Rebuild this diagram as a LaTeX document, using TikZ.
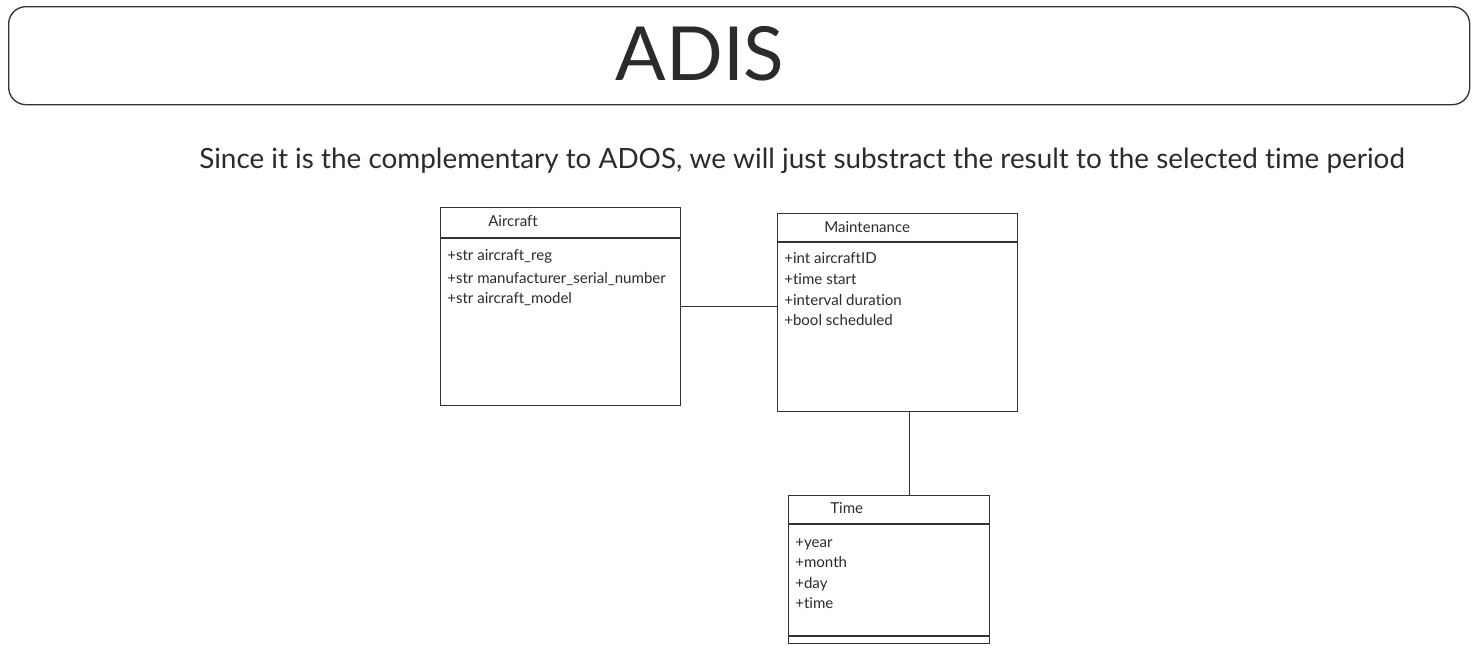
\documentclass[tikz,border=0pt]{standalone}
\usepackage{fontspec}
\setmainfont[Ligatures=NoCommon]{Lato}
\usetikzlibrary{positioning}
\definecolor{linegray}{HTML}{333333}
\definecolor{textgray}{HTML}{2B2B2B}

\begin{document}
\begin{tikzpicture}[x=0.75pt, y=-0.75pt,
  classbox/.style={draw=linegray, line width=1pt, anchor=north west, inner sep=0pt, minimum width=#1*0.75pt},
  classbox/.default=240,
  classname/.style={anchor=base west, inner sep=0pt, font=\fontsize{11.3}{13}\selectfont, text=textgray},
  attr/.style={anchor=base west, inner sep=0pt, font=\fontsize{11.3}{13}\selectfont, text=textgray},
  sep/.style={draw=linegray, line width=1pt}]
\useasboundingbox (0,0) rectangle (1475,651);

% heading
\node[draw=linegray, line width=1pt, rounded corners=13pt, anchor=north west,
  minimum width=1461*0.75pt, minimum height=98*0.75pt] (header) at (8,6) {};
\node[anchor=base, inner sep=0pt, font=\fontsize{56}{60}\selectfont, text=textgray] (adis) at (700,80) {ADIS};
\node[anchor=base west, inner sep=0pt, font=\fontsize{20.9}{24}\selectfont, text=textgray] (note) at (199,168)
  {Since it is the complementary to ADOS, we will just substract the result to the selected time period};

% Aircraft
\node[classbox, minimum height=198*0.75pt] (aircraft) at (440,207) {};
\draw[sep] (440,238) -- (680,238);
\node[classname] (aircraftname) at (488,226) {Aircraft};
\node[attr] (reg) at (447,260) {+str aircraft\_reg};
\node[attr] (msn) at (447,283) {+str manufacturer\_serial\_number};
\node[attr] (model) at (447,303) {+str aircraft\_model};

% Maintenance
\node[classbox, minimum height=198*0.75pt] (maintenance) at (777,213) {};
\draw[sep] (777,242) -- (1017,242);
\node[classname] (maintname) at (824,232) {Maintenance};
\node[attr] (acid) at (784,263) {+int aircraftID};
\node[attr] (start) at (784,284) {+time start};
\node[attr] (dur) at (784,305) {+interval duration};
\node[attr] (sched) at (784,325) {+bool scheduled};

% Time
\node[classbox=201, minimum height=148*0.75pt] (time) at (788,495) {};
\draw[sep] (788,524) -- (989,524);
\draw[sep] (788,636) -- (989,636);
\node[classname] (timename) at (830,513) {Time};
\node[attr] (year) at (795,547) {+year};
\node[attr] (month) at (795,567) {+month};
\node[attr] (day) at (795,588) {+day};
\node[attr] (hour) at (795,608) {+time};

% links
\draw[sep] (aircraft.east) -- (aircraft.east -| maintenance.west);
\draw[sep] ([xshift=9pt]maintenance.south) -- ([xshift=9pt]maintenance.south |- time.north);
\end{tikzpicture}
\end{document}
